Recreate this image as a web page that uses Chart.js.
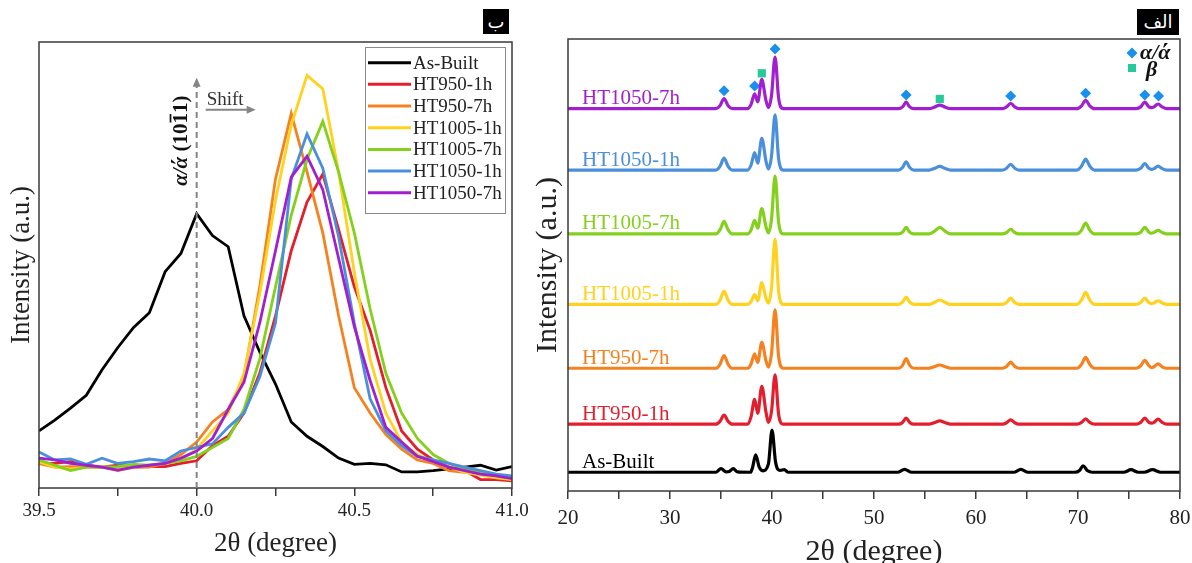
<!DOCTYPE html>
<html>
<head>
<meta charset="utf-8">
<script src="https://cdn.jsdelivr.net/npm/chart.js@4.4.0/dist/chart.umd.min.js"></script>
<style>
  html, body { margin: 0; padding: 0; background: #fff; }
  #wrap { position: relative; width: 1192px; height: 563px; overflow: hidden; }
  #left { position: absolute; left: 0; top: 0; }
  #right { position: absolute; left: 530px; top: 0; }
  .badge { position: absolute; background: #000; color: #fff; font: 18px "DejaVu Sans", sans-serif;
           text-align: center; line-height: 25px; }
</style>
</head>
<body>
<div id="wrap">
  <canvas id="left" width="530" height="563"></canvas>
  <canvas id="right" width="662" height="563"></canvas>
  <div class="badge" style="left:483px;top:9px;width:26px;height:25px;">ب</div>
  <div class="badge" style="left:1137px;top:9px;width:42px;height:26px;">الف</div>
</div>
<script>
/* ---------- data ---------- */
const SAMPLES = ["As-Built", "HT950-1h", "HT950-7h", "HT1005-1h", "HT1005-7h", "HT1050-1h", "HT1050-7h"];
const LINE_COLORS = ["#000000", "#e31e2d", "#f58220", "#ffd21f", "#84d01c", "#4a8fdb", "#a21fcf"];

// panel ب : close-up of the α/ά (10-11) reflection, 2θ step 0.05°
const zoomTheta = [39.50, 39.55, 39.60, 39.65, 39.70, 39.75, 39.80, 39.85, 39.90, 39.95,
                   40.00, 40.05, 40.10, 40.15, 40.20, 40.25, 40.30, 40.35, 40.40, 40.45,
                   40.50, 40.55, 40.60, 40.65, 40.70, 40.75, 40.80, 40.85, 40.90, 40.95, 41.00];
const zoomAsBuilt = [12.8, 15.2, 17.9, 20.8, 26.5, 31.5, 36.0, 39.3, 48.5, 52.6, 61.5, 56.6, 54.1, 38.6, 30.5, 23.3,
                     14.8, 11.6, 9.3, 6.7, 5.3, 5.5, 5.2, 3.6, 3.6, 3.9, 4.3, 4.7, 5.1, 4.0, 4.8];
const zoomHT950_1 = [5.5, 5.5, 5.9, 5.1, 4.7, 5.1, 4.7, 4.8, 4.8, 5.5, 6.1, 9.5, 11.6, 16.8, 25.7, 38.6,
                     53.2, 64.1, 70.4, 58.0, 45.1, 35.4, 22.5, 12.8, 8.7, 6.3, 4.7, 3.9, 1.9, 1.9, 1.6];
const zoomHT950_7 = [5.5, 4.7, 4.8, 4.7, 4.7, 3.9, 4.7, 4.7, 5.5, 7.5, 10.3, 14.8, 17.6, 24.9, 45.1, 69.3,
                     84.0, 70.9, 57.2, 38.6, 22.5, 16.8, 12.0, 8.7, 6.3, 5.5, 3.9, 3.5, 3.1, 2.7, 2.3];
const zoomHT1005_1 = [5.9, 4.7, 4.3, 4.7, 4.8, 4.3, 4.7, 5.1, 5.5, 6.3, 8.7, 12.8, 16.8, 25.7, 43.5, 64.5,
                      81.4, 92.5, 89.5, 70.9, 48.3, 28.9, 16.8, 10.3, 7.5, 5.9, 4.7, 3.5, 2.9, 2.3, 1.9];
const zoomHT1005_7 = [6.3, 5.1, 3.9, 4.7, 4.7, 4.8, 5.3, 5.1, 5.5, 6.1, 7.1, 9.1, 11.1, 17.6, 28.9, 45.1,
                      61.2, 73.7, 82.2, 70.9, 57.2, 40.2, 25.7, 16.8, 11.1, 7.5, 5.5, 4.3, 3.5, 2.7, 2.3];
const zoomHT1050_1 = [8.1, 6.3, 6.5, 5.3, 6.7, 5.5, 5.9, 6.5, 6.1, 8.3, 9.1, 9.9, 13.6, 16.8, 24.9, 37.0,
                      69.3, 79.4, 71.7, 56.4, 37.0, 20.0, 12.8, 9.5, 7.1, 6.3, 5.5, 4.7, 3.9, 3.1, 2.7];
const zoomHT1050_7 = [6.7, 6.3, 5.5, 5.1, 4.7, 4.0, 4.7, 5.1, 5.5, 6.7, 8.3, 11.1, 17.6, 23.7, 37.0, 53.2,
                      69.7, 74.4, 66.9, 51.5, 36.2, 24.1, 13.6, 10.3, 7.1, 5.9, 4.7, 3.9, 3.1, 2.7, 2.1];
const zoomSeries = [zoomAsBuilt, zoomHT950_1, zoomHT950_7, zoomHT1005_1, zoomHT1005_7, zoomHT1050_1, zoomHT1050_7];
const zoomTicks = [39.5, 40.0, 40.5, 41.0];
const peakMark = 40.0;      // as-built α/ά position
const markTop = 92;         // top of the dashed marker (a.u.)

// panel الف : full patterns, stacked (a.u.)
const asBuiltTheta = [20, 34.5, 35.0, 35.5, 35.8, 36.2, 36.6, 37.9, 38.1, 38.4, 38.75, 39.1, 39.65, 40.0, 40.35, 40.8,
                      41.2, 41.6, 52.3, 53.0, 53.7, 63.7, 64.4, 65.1, 69.7, 70.15, 70.5, 70.9, 71.4, 74.5, 75.2,
                      75.9, 76.5, 77.3, 78.1, 80];
const xrdAsBuilt = [52, 52, 62, 53, 54, 62, 53, 52, 66, 100, 66, 56, 75, 169, 80, 57,
                    59, 52, 52, 60, 52, 52, 60, 52, 52, 57, 70, 57, 52, 52, 59,
                    52, 52, 59, 52, 52];
const htTheta = [20, 34.5, 34.9, 35.3, 35.7, 36.1, 37.6, 37.95, 38.3, 38.6, 39.0, 39.4, 39.65, 39.95, 40.3, 40.65,
                 41.1, 52.4, 52.8, 53.15, 53.5, 53.9, 55.4, 55.9, 56.45, 57.0, 57.5, 62.6, 63.0, 63.4, 63.8,
                 64.2, 69.9, 70.35, 70.75, 71.15, 71.6, 75.7, 76.15, 76.55, 76.95, 77.2, 77.45, 77.85, 78.25, 78.7, 80];
const xrdHT950_1 = [185, 185, 193, 210, 193, 185, 185, 206, 254, 215, 290, 220, 190, 220, 322, 212,
                    185, 185, 190, 202, 190, 185, 185, 189, 194, 189, 185, 185, 189, 197, 189,
                    185, 185, 190, 200, 190, 185, 185, 190, 202, 190, 188, 190, 199, 190, 185, 185];
const xrdHT950_7 = [340, 340, 351, 375, 351, 340, 340, 352, 380, 356, 412, 362, 343, 380, 502, 372,
                    340, 340, 348, 367, 348, 340, 340, 344, 349, 344, 340, 340, 345, 357, 345,
                    340, 340, 351, 370, 351, 340, 340, 347, 362, 347, 342, 344, 352, 344, 340, 340];
const xrdHT1005_1 = [517, 517, 528, 554, 528, 517, 517, 525, 544, 527, 577, 535, 520, 562, 697, 553,
                     517, 517, 523, 537, 523, 517, 517, 522, 529, 522, 517, 517, 522, 534, 522,
                     517, 517, 529, 550, 529, 517, 517, 522, 534, 522, 519, 521, 527, 521, 517, 517];
const xrdHT1005_7 = [712, 712, 723, 747, 723, 712, 712, 723, 750, 728, 782, 733, 715, 752, 872, 744,
                     712, 712, 717, 730, 717, 712, 712, 719, 730, 719, 712, 712, 716, 725, 716,
                     712, 712, 723, 742, 723, 712, 712, 717, 730, 717, 714, 716, 722, 716, 712, 712];
const xrdHT1050_1 = [889, 889, 899, 922, 899, 889, 889, 903, 937, 908, 977, 915, 892, 927, 1042, 920,
                     889, 889, 896, 912, 896, 889, 889, 893, 899, 893, 889, 889, 894, 905, 894,
                     889, 889, 900, 919, 900, 889, 889, 894, 907, 894, 891, 893, 900, 893, 889, 889];
const xrdHT1050_7 = [1059, 1059, 1067, 1087, 1067, 1059, 1059, 1071, 1100, 1078, 1140, 1083, 1062, 1095, 1202, 1088,
                     1059, 1059, 1064, 1077, 1064, 1059, 1059, 1063, 1069, 1063, 1059, 1059, 1064, 1074, 1064,
                     1059, 1059, 1067, 1082, 1067, 1059, 1059, 1064, 1077, 1064, 1062, 1064, 1072, 1064, 1059, 1059];
const xrdTreated = [xrdHT950_1, xrdHT950_7, xrdHT1005_1, xrdHT1005_7, xrdHT1050_1, xrdHT1050_7];
const xrdTicks = [20, 30, 40, 50, 60, 70, 80];

// phase markers over the HT1050-7h pattern
const alphaTheta = [35.3, 38.3, 40.3, 53.15, 63.4, 70.75, 76.55, 77.9];
const alphaY = [1109, 1122, 1224, 1097, 1094, 1102, 1097, 1094];
const betaTheta = [39.0, 56.45];
const betaY = [1157, 1086];

/* ---------- helpers ---------- */
const SERIF = '"Liberation Serif", "Times New Roman", serif';
const pts = (xs, ys) => xs.map((x, i) => ({ x, y: ys[i] }));
const noEdgePad = sc => { sc.paddingLeft = 0; sc.paddingRight = 0; };

function diamond(ctx, x, y, r){
  ctx.beginPath();
  ctx.moveTo(x, y - r); ctx.lineTo(x + r, y); ctx.lineTo(x, y + r); ctx.lineTo(x - r, y);
  ctx.closePath(); ctx.fill();
}

/* ---------- panel ب ---------- */
const zoomDecor = {
  id: 'zoomDecor',
  afterDraw(chart){
    const { ctx, chartArea: a, scales: { x, y } } = chart;
    ctx.save();
    ctx.strokeStyle = '#3a3a3a'; ctx.lineWidth = 1.5;
    ctx.strokeRect(a.left, a.top, a.right - a.left, a.bottom - a.top);

    // dashed marker at the as-built peak
    const px = x.getPixelForValue(peakMark);
    const ty = y.getPixelForValue(markTop);
    ctx.strokeStyle = '#858585'; ctx.fillStyle = '#858585'; ctx.lineWidth = 2;
    ctx.setLineDash([6, 4]);
    ctx.beginPath(); ctx.moveTo(px, a.bottom); ctx.lineTo(px, ty + 6); ctx.stroke();
    ctx.setLineDash([]);
    ctx.beginPath(); ctx.moveTo(px, ty); ctx.lineTo(px - 4, ty + 9); ctx.lineTo(px + 4, ty + 9); ctx.closePath(); ctx.fill();

    // shift arrow
    const ay = ty + 32;
    ctx.beginPath(); ctx.moveTo(px + 9, ay); ctx.lineTo(px + 52, ay); ctx.stroke();
    ctx.beginPath(); ctx.moveTo(px + 59, ay); ctx.lineTo(px + 50, ay - 4); ctx.lineTo(px + 50, ay + 4); ctx.closePath(); ctx.fill();
    ctx.fillStyle = '#333'; ctx.font = '19px ' + SERIF; ctx.textBaseline = 'alphabetic'; ctx.textAlign = 'left';
    ctx.fillText('Shift', px + 10, ay - 5);

    // rotated reflection label α/ά (10-11)
    ctx.save();
    ctx.translate(px - 15, ty + 63);
    ctx.rotate(-Math.PI / 2);
    ctx.fillStyle = '#111'; ctx.textBaseline = 'middle';
    const fi = 'italic bold 21px ' + SERIF, fb = 'bold 21px ' + SERIF;
    const parts = [[fi, 'α/ά'], [fb, ' (10'], [fb, '1'], [fb, '1)']];
    let total = 0;
    parts.forEach(p => { ctx.font = p[0]; total += ctx.measureText(p[1]).width; });
    let cx = -total / 2;
    parts.forEach((p, i) => {
      ctx.font = p[0];
      const w = ctx.measureText(p[1]).width;
      ctx.fillText(p[1], cx, 0);
      if (i === 2) { ctx.fillRect(cx + 1, -12, w - 2, 1.7); }
      cx += w;
    });
    ctx.restore();

    // legend
    const lx = a.right - 147, ly = a.top + 5;
    ctx.fillStyle = '#fff'; ctx.fillRect(lx, ly, 140, 166);
    ctx.strokeStyle = '#8a8a8a'; ctx.lineWidth = 1;
    ctx.strokeRect(lx + 0.5, ly + 0.5, 140, 166);
    ctx.font = '19px ' + SERIF; ctx.textBaseline = 'middle';
    SAMPLES.forEach((s, i) => {
      const yy = ly + 15.7 + i * 21.67;
      ctx.strokeStyle = LINE_COLORS[i]; ctx.lineWidth = 3;
      ctx.beginPath(); ctx.moveTo(lx + 3, yy); ctx.lineTo(lx + 46, yy); ctx.stroke();
      ctx.fillStyle = '#222';
      ctx.fillText(s, lx + 48, yy + 1);
    });
    ctx.restore();
  }
};

new Chart(document.getElementById('left'), {
  type: 'line',
  data: {
    datasets: SAMPLES.map((s, i) => ({
      label: s,
      data: pts(zoomTheta, zoomSeries[i]),
      borderColor: LINE_COLORS[i],
      borderWidth: 2.8,
      pointRadius: 0,
      tension: 0,
      order: SAMPLES.length - i
    }))
  },
  options: {
    responsive: false,
    animation: false,
    layout: { padding: { top: 42, right: 18, left: 0, bottom: 0 } },
    plugins: { legend: { display: false }, tooltip: { enabled: false } },
    scales: {
      x: {
        type: 'linear', min: 39.5, max: 41.0,
        afterBuildTicks: sc => { sc.ticks = [39.5, 39.75, 40.0, 40.25, 40.5, 40.75, 41.0].map(v => ({ value: v })); },
        ticks: {
          autoSkip: false, maxRotation: 0, padding: 4, color: '#222',
          font: { family: SERIF, size: 19 },
          callback: v => zoomTicks.includes(v) ? v.toFixed(1) : ''
        },
        grid: { display: true, drawOnChartArea: false, drawTicks: true, tickLength: 8, color: '#3a3a3a', lineWidth: 1.5 },
        border: { display: false },
        title: { display: true, text: '2θ (degree)', color: '#222',
                 font: { family: SERIF, size: 27, lineHeight: 1.2 }, padding: { top: 0, bottom: 3 } },
        afterFit: sc => { sc.height = 75; noEdgePad(sc); }
      },
      y: {
        min: 0, max: 100,
        ticks: { display: false },
        grid: { display: false },
        border: { display: false },
        title: { display: true, text: 'Intensity (a.u.)', color: '#222',
                 font: { family: SERIF, size: 27, lineHeight: 1.2 }, padding: { top: 6, bottom: 0 } },
        afterFit: sc => { sc.width = 39; }
      }
    }
  },
  plugins: [zoomDecor]
});

/* ---------- panel الف ---------- */
const xrdDecor = {
  id: 'xrdDecor',
  afterDraw(chart){
    const { ctx, chartArea: a, scales: { y } } = chart;
    ctx.save();
    ctx.strokeStyle = '#3a3a3a'; ctx.lineWidth = 1.5;
    ctx.strokeRect(a.left, a.top, a.right - a.left, a.bottom - a.top);

    // sample names above each baseline
    ctx.font = '21px ' + SERIF; ctx.textBaseline = 'middle'; ctx.textAlign = 'left';
    chart.data.datasets.forEach((ds, i) => {
      if (ds.type === 'scatter') return;
      const yy = y.getPixelForValue(ds.data[0].y) - 10;
      ctx.fillStyle = ds.borderColor;
      ctx.fillText(ds.label, a.left + 14, yy);
    });

    // phase key
    ctx.fillStyle = '#1a90ee';
    diamond(ctx, a.right - 48, a.top + 14, 5.5);
    ctx.fillStyle = '#26c99a';
    ctx.fillRect(a.right - 52, a.top + 25, 8, 8);
    ctx.fillStyle = '#111';
    ctx.font = 'italic bold 22px ' + SERIF;
    ctx.fillText('α/ά', a.right - 40, a.top + 14);
    ctx.fillText('β', a.right - 34, a.top + 31);
    ctx.restore();
  }
};

const xrdLines = SAMPLES.map((s, i) => ({
  label: s,
  data: i === 0 ? pts(asBuiltTheta, xrdAsBuilt) : pts(htTheta, xrdTreated[i - 1]),
  borderColor: LINE_COLORS[i],
  borderWidth: 3.2,
  pointRadius: 0,
  cubicInterpolationMode: 'monotone'
}));

new Chart(document.getElementById('right'), {
  type: 'line',
  data: {
    datasets: xrdLines.concat([
      { type: 'scatter', label: 'α/ά', data: pts(alphaTheta, alphaY), pointStyle: 'rectRot',
        pointRadius: 5.5, backgroundColor: '#1a90ee', borderWidth: 0 },
      { type: 'scatter', label: 'β', data: pts(betaTheta, betaY), pointStyle: 'rect',
        pointRadius: 5.8, backgroundColor: '#26c99a', borderWidth: 0 }
    ])
  },
  options: {
    responsive: false,
    animation: false,
    layout: { padding: { top: 39, right: 12, left: 0, bottom: 0 } },
    plugins: { legend: { display: false }, tooltip: { enabled: false } },
    scales: {
      x: {
        type: 'linear', min: 20, max: 80,
        ticks: {
          stepSize: 5, autoSkip: false, maxRotation: 0, padding: 7, color: '#222',
          font: { family: SERIF, size: 21 },
          callback: v => xrdTicks.includes(v) ? String(v) : ''
        },
        grid: { display: true, drawOnChartArea: false, drawTicks: true, tickLength: 8, color: '#3a3a3a', lineWidth: 1.5 },
        border: { display: false },
        title: { display: true, text: '2θ (degree)', color: '#222',
                 font: { family: SERIF, size: 30, lineHeight: 0.75 }, padding: { top: 0, bottom: 0 } },
        afterFit: sc => { sc.height = 72; noEdgePad(sc); }
      },
      y: {
        min: 0, max: 1252,
        ticks: { display: false },
        grid: { display: false },
        border: { display: false },
        title: { display: true, text: 'Intensity (a.u.)', color: '#222',
                 font: { family: SERIF, size: 30, lineHeight: 1.2 }, padding: { top: 0, bottom: 0 } },
        afterFit: sc => { sc.width = 38; }
      }
    }
  },
  plugins: [xrdDecor]
});
</script>
</body>
</html>
